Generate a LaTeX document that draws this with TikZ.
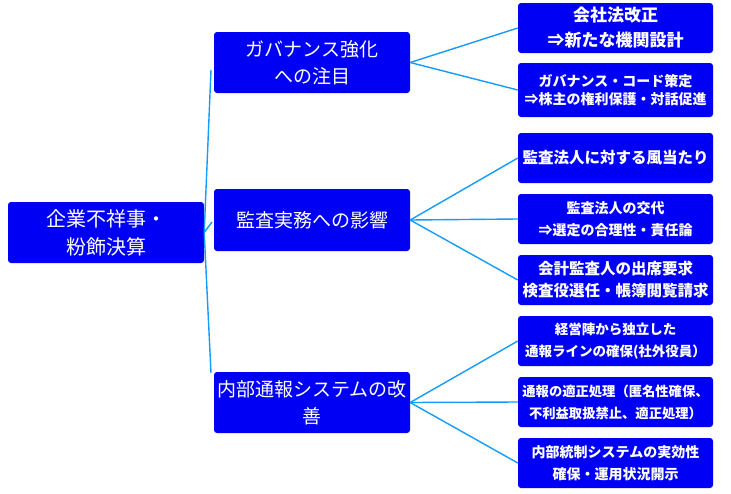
\documentclass[tikz,border=0pt]{standalone}
\usepackage{fontspec}
\setmainfont{Noto Sans CJK JP}
\newfontfamily\jp{Noto Sans CJK JP}
\definecolor{boxblue}{RGB}{0,0,245}
\definecolor{linkblue}{RGB}{20,155,255}
\tikzset{
  box/.style={draw=none, fill=boxblue, rounded corners=3pt, text=white, align=center, inner sep=1pt},
  bigbox/.style={box, minimum width=196pt, minimum height=61pt},
  smallbox/.style={box, minimum width=195pt, minimum height=50pt, font=\jp\bfseries\fontsize{14}{22}\selectfont},
  link/.style={draw=linkblue, line width=1.4pt}
}
\begin{document}
\begin{tikzpicture}[x=1pt,y=-1pt]
\useasboundingbox (0,0) rectangle (731,493);
% root and middle
\node[bigbox, font=\jp\fontsize{20}{28}\selectfont] (root) at (106,232.5) {企業不祥事・\\粉飾決算};
\node[bigbox, font=\jp\fontsize{19}{27}\selectfont] (m1) at (312,62.5) {ガバナンス強化\\への注目};
\node[bigbox, minimum height=62pt, font=\jp\fontsize{19}{27}\selectfont] (m2) at (312,220) {監査実務への影響};
\node[bigbox, font=\jp\fontsize{19}{27}\selectfont] (m3) at (312,402.5) {内部通報システムの改\\善};
% right boxes
\node[smallbox, font=\jp\bfseries\fontsize{17}{25}\selectfont] (r1) at (615.5,28) {会社法改正\\⇒新たな機関設計};
\node[smallbox, minimum height=54pt, font=\jp\bfseries\fontsize{14}{18}\selectfont] (r2) at (615.5,90) {ガバナンス・コード策定\\⇒株主の権利保護・対話促進};
\node[smallbox, font=\jp\bfseries\fontsize{15.5}{22}\selectfont] (r3) at (615.5,158) {監査法人に対する風当たり};
\node[smallbox] (r4) at (615.5,219) {監査法人の交代\\⇒選定の合理性・責任論};
\node[smallbox, font=\jp\bfseries\fontsize{15.5}{22}\selectfont] (r5) at (615.5,280) {会計監査人の出席要求\\検査役選任・帳簿閲覧請求};
\node[smallbox, font=\jp\bfseries\fontsize{13.5}{22}\selectfont] (r6) at (615.5,341) {経営陣から独立した\\通報ラインの確保(社外役員）};
\node[smallbox, font=\jp\bfseries\fontsize{13.3}{22}\selectfont] (r7) at (615.5,402) {通報の適正処理（匿名性確保、\\不利益取扱禁止、適正処理）};
\node[smallbox] (r8) at (615.5,463) {内部統制システムの実効性\\確保・運用状況開示};
% left connectors
\coordinate (c1) at (211,70);
\coordinate (c2) at (212,222);
\coordinate (c3) at (211,373);
\draw[link] (root.east) -- (c1);
\draw[link] (root.east) -- (c2);
\draw[link] (root.east) -- (c3);
% right connectors
\foreach \r in {r1,r2} \draw[link] (m1.east) -- (\r.west);
\foreach \r in {r3,r4,r5} \draw[link] (m2.east) -- (\r.west);
\foreach \r in {r6,r7,r8} \draw[link] (m3.east) -- (\r.west);
\end{tikzpicture}
\end{document}
